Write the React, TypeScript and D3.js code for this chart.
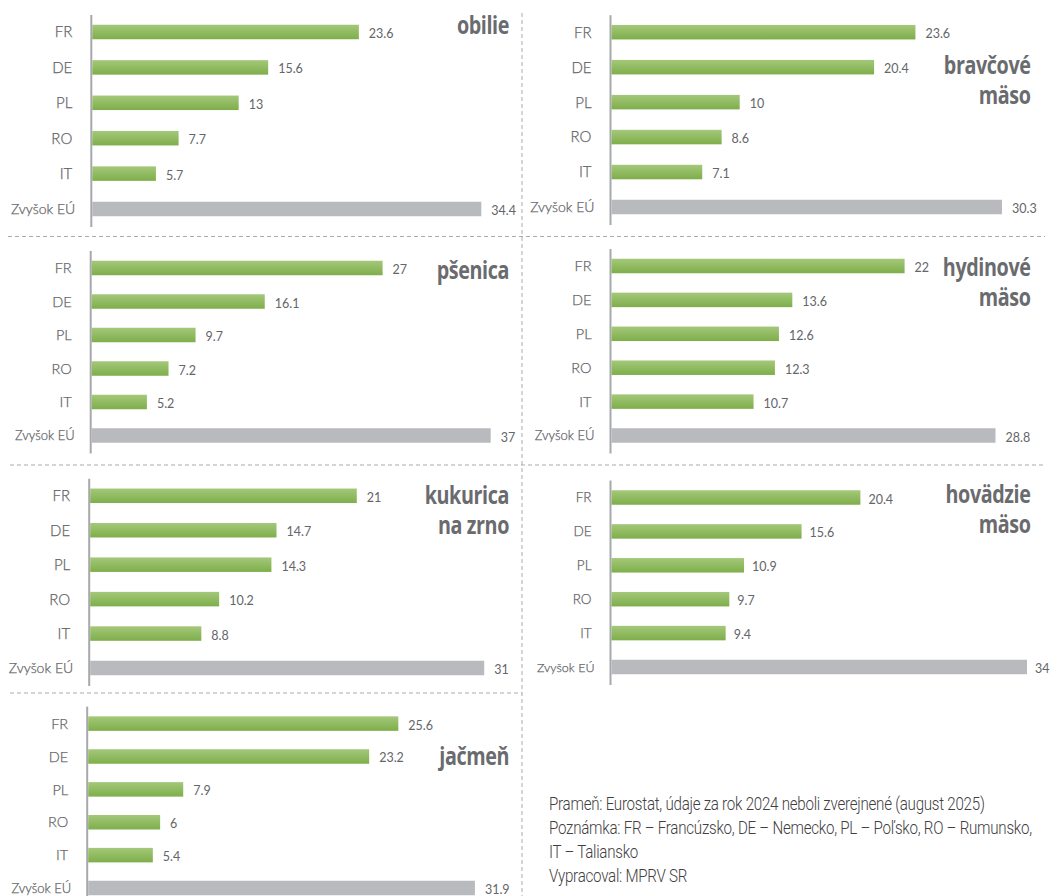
import React from "react";
import * as d3 from "d3";

const categories = ["FR", "DE", "PL", "RO", "IT", "Zvyšok EÚ"];
const obilie = [23.6, 15.6, 13, 7.7, 5.7, 34.4];
const bravcove = [23.6, 20.4, 10, 8.6, 7.1, 30.3];
const psenica = [27, 16.1, 9.7, 7.2, 5.2, 37];
const hydinove = [22, 13.6, 12.6, 12.3, 10.7, 28.8];
const kukurica = [21, 14.7, 14.3, 10.2, 8.8, 31];
const hovadzie = [20.4, 15.6, 10.9, 9.7, 9.4, 34];
const jacmen = [25.6, 23.2, 7.9, 6, 5.4, 31.9];

const titles = [
  ["obilie"],
  ["bravčové", "mäso"],
  ["pšenica"],
  ["hydinové", "mäso"],
  ["kukurica", "na zrno"],
  ["hovädzie", "mäso"],
  ["jačmeň"],
];
const series = [obilie, bravcove, psenica, hydinove, kukurica, hovadzie, jacmen];

const noteLines = [
  "Prameň: Eurostat, údaje za rok 2024 neboli zverejnené (august 2025)",
  "Poznámka: FR – Francúzsko, DE – Nemecko, PL – Poľsko, RO – Rumunsko,",
  "IT – Taliansko",
  "Vypracoval: MPRV SR",
];

// layout per panel: axis x, first/last bar center y, bar range width, title right x, title first baseline, label font sizes, value label gap
const layout = [
  { ax: 91.3, y0: 32, y1: 209, w: 390, tx: 509, ty: 34, fs: 15, fr: 14, gap: 10 },
  { ax: 610.5, y0: 32.2, y1: 207, w: 391.5, tx: 1030.5, ty: 74, fs: 15, fr: 14, gap: 10 },
  { ax: 90.7, y0: 268, y1: 435.5, w: 400, tx: 509, ty: 279, fs: 14.5, fr: 13, gap: 10 },
  { ax: 610.5, y0: 266, y1: 435.5, w: 385, tx: 1030.5, ty: 276, fs: 14.5, fr: 13, gap: 10 },
  { ax: 89.2, y0: 495.8, y1: 668, w: 395, tx: 509, ty: 504, fs: 15, fr: 14, gap: 10 },
  { ax: 610.5, y0: 497.5, y1: 667, w: 416.5, tx: 1030.5, ty: 503, fs: 13.5, fr: 12.5, gap: 8 },
  { ax: 87.2, y0: 723.6, y1: 888, w: 387.7, tx: 509, ty: 765, fs: 14.5, fr: 13, gap: 10 },
];

const GREEN_TOP = "#a4c87a";
const GREEN_BOT = "#7eae4a";
const GRAY = "#b9babe";
const TEXT = "#646568";
const TITLE = "#6a6b6e";
const LABEL_FONT = "Lato, 'Open Sans', sans-serif";
const TITLE_FONT = "'Open Sans', 'DejaVu Sans', sans-serif";

function Panel({ idx }: { idx: number }) {
  const L = layout[idx];
  const vals = series[idx];
  const x = d3.scaleLinear().domain([0, d3.max(vals) as number]).range([L.ax, L.ax + L.w]);
  const y = d3.scalePoint<string>().domain(categories).range([L.y0, L.y1]);
  const bh = 14.5;
  return (
    <g>
      <line x1={L.ax} x2={L.ax} y1={L.y0 - 17} y2={L.y1 + 18} stroke="#a7a8ab" strokeWidth={2} />
      {categories.map((c, i) => {
        const cy = y(c) as number;
        const isRest = i === categories.length - 1;
        return (
          <g key={c}>
            <rect
              x={L.ax + 1}
              y={cy - bh / 2}
              width={x(vals[i]) - L.ax - 1}
              height={bh}
              fill={isRest ? GRAY : "url(#greenGrad)"}
            />
            <text
              x={L.ax - (isRest ? 16 : 19)}
              y={cy}
              dy="0.36em"
              textAnchor="end"
              fontFamily={LABEL_FONT}
              fontWeight={300}
              fontSize={isRest ? L.fr : L.fs}
              fill={TEXT}
              stroke={TEXT}
              strokeWidth={0.25}
            >
              {c}
            </text>
            <text
              x={x(vals[i]) + L.gap}
              y={cy + 1.5}
              dy="0.36em"
              fontFamily={LABEL_FONT}
              fontSize={12.5}
              fill={TEXT}
            >
              {String(vals[i])}
            </text>
          </g>
        );
      })}
      {titles[idx].map((t, j) => (
        <g key={t} transform={`translate(${L.tx},${L.ty + j * 29.5}) scale(0.79,1)`}>
          <text
            x={0}
            y={0}
            textAnchor="end"
            fontFamily={TITLE_FONT}
            fontWeight={700}
            fontSize={25}
            letterSpacing={-0.5}
            fill={TITLE}
          >
            {t}
          </text>
        </g>
      ))}
    </g>
  );
}

export default function App() {
  const dash = "4 3";
  const dcol = "#a9aaad";
  return (
    <svg width={1050} height={896} style={{ position: "absolute", left: 0, top: 0, background: "#fff" }}>
      <defs>
        <linearGradient id="greenGrad" x1="0" y1="0" x2="0" y2="1">
          <stop offset="0%" stopColor={GREEN_TOP} />
          <stop offset="100%" stopColor={GREEN_BOT} />
        </linearGradient>
      </defs>
      <rect x={0} y={0} width={1050} height={896} fill="#fff" />
      <line x1={522} x2={522} y1={13} y2={896} stroke={dcol} strokeDasharray={dash} />
      <line x1={8} x2={1045} y1={236.5} y2={236.5} stroke={dcol} strokeDasharray={dash} />
      <line x1={10} x2={1045} y1={465} y2={465} stroke={dcol} strokeDasharray={dash} />
      <line x1={10} x2={522} y1={693} y2={693} stroke={dcol} strokeDasharray={dash} />
      {layout.map((_, i) => (
        <Panel key={i} idx={i} />
      ))}
      {noteLines.map((t, i) => (
        <g key={i} transform={`translate(549,${810 + i * 24}) scale(0.866,1)`}>
          <text
            x={0}
            y={0}
            fontFamily="Roboto, 'Open Sans', sans-serif"
            fontWeight={300}
            fontSize={17.5}
            letterSpacing={-0.3}
            fill="#3f4042"
          >
            {t}
          </text>
        </g>
      ))}
    </svg>
  );
}
